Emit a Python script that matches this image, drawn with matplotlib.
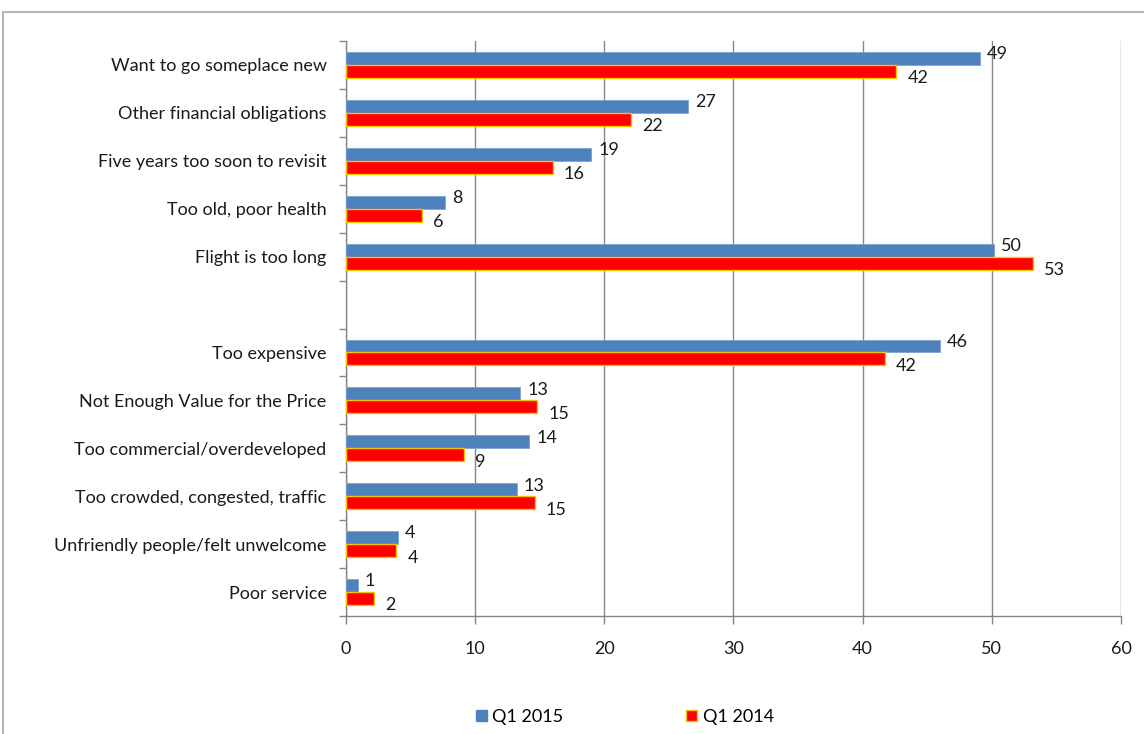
import matplotlib
matplotlib.use("Agg")
import matplotlib.pyplot as plt
from matplotlib.patches import Rectangle, Patch
import numpy as np

plt.rcParams['font.family'] = ['Lato', 'DejaVu Sans']

categories = ["Want to go someplace new", "Other financial obligations",
              "Five years too soon to revisit", "Too old, poor health",
              "Flight is too long", "",
              "Too expensive", "Not Enough Value for the Price",
              "Too commercial/overdeveloped", "Too crowded, congested, traffic",
              "Unfriendly people/felt unwelcome", "Poor service"]
q1_2015 = [49.1, 26.5, 19.0, 7.7, 50.2, None, 46.0, 13.5, 14.2, 13.2, 4.0, 0.9]
q1_2014 = [42.6, 22.1, 16.0, 5.9, 53.2, None, 41.7, 14.8, 9.1, 14.6, 3.9, 2.2]
labels_2015 = ["49", "27", "19", "8", "50", "", "46", "13", "14", "13", "4", "1"]
labels_2014 = ["42", "22", "16", "6", "53", "", "42", "15", "9", "15", "4", "2"]
xticks = [0, 10, 20, 30, 40, 50, 60]

W, H = 1144, 734
fig = plt.figure(figsize=(W / 100, H / 100), dpi=100)

# chart border
fig.patches.append(Rectangle((3 / W, -0.05), 1.2, 1 - 12 / H + 0.05, transform=fig.transFigure,
                             fill=False, edgecolor='#a6a6a6', linewidth=1.2, zorder=0))

ax = fig.add_axes([346 / W, 1 - 616 / H, (1121 - 346) / W, (616 - 41) / H])

blue = '#4F81BD'
red = '#FF0000'
n = len(categories)
pos = np.arange(n)
h = 0.27
fs = 13

for i in range(n):
    if q1_2015[i] is None:
        continue
    ax.barh(pos[i] - h / 2, q1_2015[i], height=h, color=blue, edgecolor='#7da3d3', linewidth=0.6, zorder=3)
    ax.barh(pos[i] + h / 2, q1_2014[i], height=h, color=red, edgecolor='#FFC000', linewidth=1.0, zorder=3)
    ax.annotate(labels_2015[i], (q1_2015[i], pos[i] - h / 2), xytext=(5, 3), textcoords='offset points',
                ha='left', va='center', fontsize=fs, color='#1a1a1a', zorder=4)
    ax.annotate(labels_2014[i], (q1_2014[i], pos[i] + h / 2), xytext=(8, -5), textcoords='offset points',
                ha='left', va='center', fontsize=fs, color='#1a1a1a', zorder=4)

ax.set_xlim(0, 60)
ax.set_ylim(n - 0.5, -0.5)
ax.set_xticks(xticks)
ax.set_xticklabels([str(x) for x in xticks], fontsize=fs, color='#1a1a1a')
ax.set_yticks(pos)
ax.set_yticklabels(categories, fontsize=fs, color='#1a1a1a')
ax.set_yticks(np.arange(-0.5, n, 1), minor=True)
ax.tick_params(axis='y', which='major', length=0, pad=14)
ax.tick_params(axis='y', which='minor', length=5, color='#868686', width=1)
ax.tick_params(axis='x', which='major', length=6, color='#868686', width=1, pad=12)
ax.grid(axis='x', color='#868686', linewidth=1, zorder=0)
ax.set_axisbelow(True)
for s in ['top', 'right']:
    ax.spines[s].set_visible(False)
for s in ['left', 'bottom']:
    ax.spines[s].set_color('#868686')
    ax.spines[s].set_linewidth(1)

handles = [Patch(facecolor=blue, edgecolor=blue, label='Q1 2015'),
           Patch(facecolor=red, edgecolor='#FFC000', label='Q1 2014')]
fig.legend(handles=handles, loc='center', bbox_to_anchor=(625 / W, 1 - 717 / H), ncol=2,
           frameon=False, fontsize=fs, handlelength=0.6, handleheight=0.6,
           handletextpad=0.3, columnspacing=6.8)

fig.savefig('out.png', dpi=100)
